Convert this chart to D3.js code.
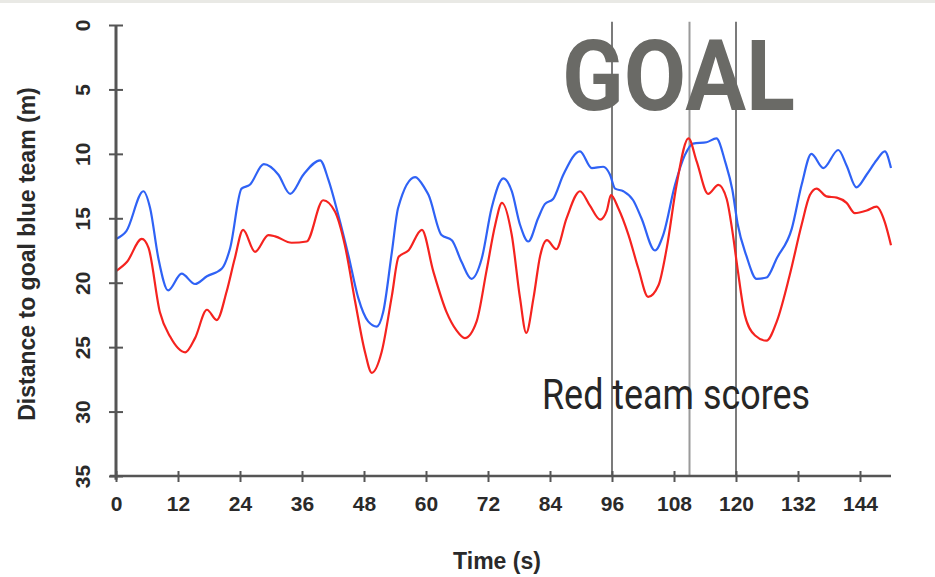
<!DOCTYPE html>
<html>
<head>
<meta charset="utf-8">
<script src="https://cdn.jsdelivr.net/npm/d3@7"></script>
<style>
  body { margin: 0; background: #fff; }
  svg { display: block; }
</style>
</head>
<body>
<svg width="935" height="577"></svg>
<script>
// blue team distance to its goal (m) over time (s)
const blueTime = [0, 2, 5.3, 6.6, 8.2, 10.1, 12.7, 15.3, 17.6, 20.5, 22.1, 24.3, 25.9, 28.6,
  31.4, 33.7, 36.3, 39.5, 41.1, 43, 45, 46.9, 48.8, 50.5, 51.7, 53.4, 54.6, 57.9, 59.8,
  60.5, 63, 65, 66.9, 68.8, 70.8, 72.7, 75, 76.6, 78.2, 79.8, 81.7, 83, 84.6, 86.6, 89.8,
  92.1, 94.3, 95.6, 96.6, 98.2, 100.1, 101.7, 104.3, 105.9, 108.2, 110.1, 111.7, 114.3,
  116.2, 117.9, 119.3, 120.3, 122, 124, 125.9, 127.9, 130.8, 132.7, 134.6, 136.9, 139.8,
  141.4, 143.3, 145.3, 147.2, 148.8, 150];
const blueDist = [16.6, 16.0, 12.9, 14.2, 18.1, 20.6, 19.3, 20.1, 19.5, 18.9, 17.3, 12.7, 12.4, 10.8,
  11.6, 13.1, 11.6, 10.5, 12.0, 14.7, 17.9, 21.2, 23.0, 23.4, 22.3, 17.6, 14.2, 11.8, 12.7,
  13.2, 16.3, 16.7, 18.4, 19.7, 18.1, 14.2, 11.9, 12.9, 15.5, 16.8, 15.0, 13.9, 13.5, 11.6, 9.8,
  11.1, 11.0, 11.6, 12.7, 12.9, 13.6, 15.0, 17.5, 16.3, 12.4, 10.1, 9.2, 9.1,
  8.8, 10.6, 12.8, 15.4, 17.9, 19.7, 19.6, 18.1, 15.8, 12.4, 10.0, 11.1, 9.7,
  10.9, 12.6, 11.6, 10.5, 9.8, 11.1];

// red team
const redTime = [0, 2.1, 5, 6.3, 8.5, 10.5, 13.4, 15.3, 17.6, 19.5, 21.4, 23, 24.6, 26.9, 29.5,
  30.8, 34, 36.9, 40.1, 42.4, 44.3, 46.3, 48.2, 49.5, 51.4, 53.4, 54.7, 56.6, 59.2, 61.4,
  64, 65.9, 67.5, 69.8, 71.7, 73.4, 74.7, 76.6, 78.2, 79.4, 80.8, 82.1, 83.4, 85.2, 87.2,
  89.8, 91.7, 93.7, 95, 95.8, 97.2, 99.2, 101.1, 103, 105, 106.6, 108.5, 110.8, 112.4,
  114.6, 116.6, 118.2, 119.3, 120.3, 121.7, 123.7, 125.9, 127.9, 130.4, 132.7, 134.3,
  135.6, 137.5, 139.5, 141.4, 143, 145.3, 147.2, 148.8, 150];
const redDist = [19.1, 18.4, 16.6, 17.3, 22.3, 24.2, 25.4, 24.3, 22.1, 22.9, 20.7, 18.1, 15.9, 17.6, 16.3,
  16.4, 16.9, 16.8, 13.6, 14.5, 17.1, 21.5, 25.4, 27.0, 25.4, 21.0, 18.0, 17.5, 15.9, 19.1,
  22.3, 23.7, 24.3, 23.0, 19.1, 15.5, 13.8, 16.3, 21.2, 23.9, 21.2, 17.9, 16.7, 17.4, 15.0,
  12.9, 14.0, 15.1, 14.4, 13.2, 14.2, 16.3, 18.9, 21.1, 20.2, 17.3, 12.4, 8.8, 10.6,
  13.1, 12.4, 13.5, 16.0, 18.9, 22.5, 24.1, 24.5, 23.0, 19.4, 15.5, 13.2,
  12.7, 13.3, 13.4, 13.8, 14.6, 14.4, 14.1, 15.3, 17.1];

const goalTimes = [96, 111, 120];
const xTicks = [0, 12, 24, 36, 48, 60, 72, 84, 96, 108, 120, 132, 144];
const yTicks = [0, 5, 10, 15, 20, 25, 30, 35];

const svg = d3.select('svg');
const x = d3.scaleLinear().domain([0, 150]).range([116, 891]);
const y = d3.scaleLinear().domain([0, 35]).range([25, 476]);

// faint strip along the top edge
svg.append('rect')
    .attr('x', 0).attr('y', 0)
    .attr('width', 935).attr('height', 3)
    .attr('fill', '#e9e9e5');

// goal markers
svg.selectAll('line.goal')
    .data(goalTimes)
    .enter()
    .append('line')
    .attr('class', 'goal')
    .attr('x1', d => x(d)).attr('x2', d => x(d))
    .attr('y1', y(-0.25)).attr('y2', y(35))
    .attr('stroke', (d, i) => i === 1 ? '#9a9a9a' : '#5a5a5a')
    .attr('stroke-width', (d, i) => i === 1 ? 2 : 1.6);

svg.append('text')
    .attr('x', 562)
    .attr('y', 110)
    .attr('textLength', 233)
    .attr('lengthAdjust', 'spacingAndGlyphs')
    .style('font-family', 'Roboto, sans-serif')
    .style('font-weight', 'bold')
    .style('font-size', '98px')
    .style('fill', '#6a6a66')
    .text('GOAL');

svg.append('text')
    .attr('x', 542)
    .attr('y', 409)
    .attr('textLength', 268)
    .attr('lengthAdjust', 'spacingAndGlyphs')
    .style('font-family', 'Roboto, sans-serif')
    .style('font-size', '43px')
    .style('fill', '#262626')
    .text('Red team scores');

// lines
const line = d3.line()
    .x(d => x(d[0]))
    .y(d => y(d[1]))
    .curve(d3.curveMonotoneX);

const series = [
  {color: '#2f62f5', pts: d3.zip(blueTime, blueDist)},
  {color: '#f5231f', pts: d3.zip(redTime, redDist)},
];

svg.selectAll('path.series')
    .data(series)
    .enter()
    .append('path')
    .attr('class', 'series')
    .attr('d', d => line(d.pts))
    .attr('fill', 'none')
    .attr('stroke', d => d.color)
    .attr('stroke-width', 2.2)
    .attr('stroke-linejoin', 'round');

// axes
const axisColor = '#555';

const xAxis = svg.append('g')
    .attr('transform', `translate(0,${y(35)})`)
    .call(d3.axisBottom(x).tickValues(xTicks).tickSize(6).tickPadding(14).tickSizeOuter(0));
xAxis.select('.domain')
    .attr('d', `M${x(-1.2)},0H${x(150)}`)
    .attr('stroke', axisColor)
    .attr('stroke-width', 2.5);
xAxis.selectAll('.tick line')
    .attr('y1', -5).attr('y2', 6)
    .attr('stroke', axisColor)
    .attr('stroke-width', 2);
xAxis.selectAll('.tick text')
    .style('font-family', 'Liberation Sans, Arial, sans-serif')
    .style('font-weight', 'bold')
    .style('font-size', '21px')
    .style('fill', '#2a2a2a');

const yAxis = svg.append('g')
    .attr('transform', `translate(${x(0)},0)`)
    .call(d3.axisLeft(y).tickValues(yTicks).tickSize(6).tickSizeOuter(0));
yAxis.select('.domain')
    .attr('d', `M0,${y(0)}V${y(35.3)}`)
    .attr('stroke', axisColor)
    .attr('stroke-width', 3);
yAxis.selectAll('.tick line')
    .attr('x1', -7).attr('x2', 7)
    .attr('stroke', axisColor)
    .attr('stroke-width', 2);
yAxis.selectAll('.tick text')
    .attr('x', null).attr('dy', null)
    .attr('text-anchor', 'middle')
    .attr('transform', 'translate(-26,0) rotate(-90)')
    .style('font-family', 'Liberation Sans, Arial, sans-serif')
    .style('font-weight', 'bold')
    .style('font-size', '21px')
    .style('fill', '#2a2a2a');

// axis titles
svg.append('text')
    .attr('transform', 'translate(35,254) rotate(-90)')
    .attr('text-anchor', 'middle')
    .style('font-family', 'Liberation Sans, Arial, sans-serif')
    .style('font-weight', 'bold')
    .style('font-size', '23px')
    .style('fill', '#2a2a2a')
    .text('Distance to goal blue team (m)');

svg.append('text')
    .attr('x', 497)
    .attr('y', 569)
    .attr('text-anchor', 'middle')
    .style('font-family', 'Liberation Sans, Arial, sans-serif')
    .style('font-weight', 'bold')
    .style('font-size', '23px')
    .style('fill', '#2a2a2a')
    .text('Time (s)');
</script>
</body>
</html>
